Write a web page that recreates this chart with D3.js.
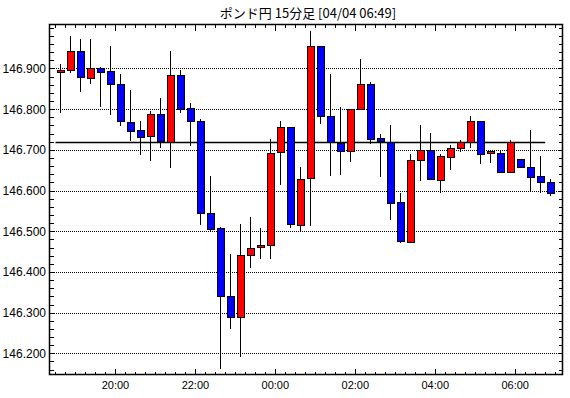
<!DOCTYPE html>
<html><head><meta charset="utf-8">
<script src="https://cdn.jsdelivr.net/npm/d3@7"></script>
<style>body{margin:0;background:#fff}</style>
</head><body>
<svg id="c" width="570" height="398"></svg>
<script>
const title = "ポンド円 15分足 [04/04 06:49]";
const times = ["18:30","18:45","19:00","19:15","19:30","19:45","20:00","20:15","20:30","20:45",
 "21:00","21:15","21:30","21:45","22:00","22:15","22:30","22:45","23:00","23:15",
 "23:30","23:45","00:00","00:15","00:30","00:45","01:00","01:15","01:30","01:45",
 "02:00","02:15","02:30","02:45","03:00","03:15","03:30","03:45","04:00","04:15",
 "04:30","04:45","05:00","05:15","05:30","05:45","06:00","06:15","06:30","06:45"];
const opens = [146.890,146.896,146.943,146.878,146.902,146.893,146.861,146.769,146.750,146.732,
 146.787,146.720,146.884,146.804,146.771,146.545,146.508,146.341,146.289,146.442,
 146.462,146.466,146.693,146.755,146.516,146.629,146.954,146.782,146.718,146.698,
 146.801,146.863,146.728,146.720,146.571,146.474,146.676,146.700,146.628,146.683,
 146.705,146.720,146.772,146.691,146.693,146.646,146.678,146.659,146.636,146.622];
const highs = [146.911,146.980,146.972,146.972,146.904,146.955,146.886,146.847,146.770,146.796,
 146.827,146.943,146.896,146.815,146.775,146.636,146.510,146.443,146.518,146.536,
 146.509,146.726,146.772,146.757,146.657,146.992,146.954,146.886,146.805,146.801,
 146.923,146.866,146.738,146.760,146.593,146.691,146.760,146.741,146.691,146.713,
 146.725,146.783,146.772,146.700,146.696,146.723,146.678,146.748,146.686,146.629];
const lows = [146.791,146.888,146.843,146.862,146.805,146.786,146.758,146.722,146.687,146.672,
 146.704,146.655,146.791,146.709,146.515,146.498,146.161,146.261,146.192,146.409,
 146.431,146.433,146.614,146.508,146.499,146.512,146.764,146.636,146.638,146.670,
 146.797,146.714,146.633,146.527,146.471,146.474,146.624,146.627,146.594,146.650,
 146.695,146.705,146.665,146.667,146.646,146.643,146.658,146.596,146.594,146.586];
const closes = [146.895,146.943,146.878,146.902,146.893,146.861,146.769,146.747,146.732,146.787,
 146.720,146.884,146.801,146.773,146.544,146.506,146.340,146.289,146.442,146.459,
 146.467,146.693,146.755,146.516,146.629,146.954,146.782,146.718,146.698,146.801,
 146.863,146.728,146.721,146.571,146.474,146.676,146.700,146.628,146.686,146.705,
 146.720,146.772,146.691,146.696,146.646,146.720,146.658,146.634,146.621,146.595];
const refLevel = 146.720;
const yTickLabels = [146.200,146.300,146.400,146.500,146.600,146.700,146.800,146.900];
const xTickLabels = ["20:00","22:00","00:00","02:00","04:00","06:00"];

const svg = d3.select("#c");
const L = 49.5, R = 562.5, T = 24.5, B = 374.5;

function toDate(s, i) {
  const [h, m] = s.split(":").map(Number);
  const day = (h >= 12 ? 3 : 4);
  return new Date(2024, 3, day, h, m);
}
const data = times.map((t, i) => ({t: toDate(t, i), o: opens[i], h: highs[i], l: lows[i], c: closes[i]}));

const x = d3.scaleTime()
  .domain([new Date(2024,3,3,18,21), new Date(2024,3,4,7,11)])
  .range([L, R]);
const y = d3.scaleLinear().domain([146.148, 147.008]).range([B, T]);
const half = 7.5 * 60 * 1000;
const cxOf = d => Math.round(x(new Date(+d.t + half))) + 0.5;

// title
svg.append("text").attr("x", 308).attr("y", 18).attr("text-anchor", "middle")
  .attr("font-family", "'Noto Sans CJK JP', sans-serif").attr("font-size", 13).attr("fill", "#000")
  .text(title);

// gridlines
svg.append("g").attr("shape-rendering", "crispEdges").selectAll("line").data(yTickLabels).join("line")
  .attr("x1", L).attr("x2", R)
  .attr("y1", d => Math.round(y(d)) + 0.5).attr("y2", d => Math.round(y(d)) + 0.5)
  .attr("stroke", "#000").attr("stroke-width", 1).attr("stroke-dasharray", "1,1");

// y minor ticks (left and right) via axes
const yMinor = d3.range(146.16, 147.001, 0.02).map(v => +v.toFixed(2));
const yLeft = d3.axisRight(y).tickValues(yMinor).tickSize(4).tickFormat("");
const yRight = d3.axisLeft(y).tickValues(yMinor).tickSize(4).tickFormat("");
svg.append("g").attr("transform", `translate(${L},0)`).call(yLeft).call(g => g.select(".domain").remove());
svg.append("g").attr("transform", `translate(${R},0)`).call(yRight).call(g => g.select(".domain").remove());

// y labels
svg.append("g").selectAll("text").data(yTickLabels).join("text")
  .attr("x", 46).attr("y", d => y(d) + 4.5).attr("text-anchor", "end")
  .attr("font-family", "'Liberation Sans', Arial, sans-serif").attr("font-size", 12).attr("fill", "#000")
  .text(d => d.toFixed(3));

// x ticks
const xMinor = d3.timeMinute.every(15).range(new Date(2024,3,3,18,30), new Date(2024,3,4,7,11));
const isMajor = d => d.getMinutes() === 0 && d.getHours() % 2 === 0;
const xBottom = svg.append("g").attr("transform", `translate(0,${B})`).call(d3.axisTop(x).tickValues(xMinor).tickFormat("").tickSizeOuter(0));
xBottom.select(".domain").remove();
xBottom.selectAll(".tick line").attr("y2", d => isMajor(d) ? -6 : -3);
const xTop = svg.append("g").attr("transform", `translate(0,${T})`).call(d3.axisBottom(x).tickValues(xMinor).tickFormat("").tickSizeOuter(0));
xTop.select(".domain").remove();
xTop.selectAll(".tick line").attr("y2", d => isMajor(d) ? 6 : 3);
svg.selectAll(".tick line").attr("stroke", "#000").attr("shape-rendering", "crispEdges");

// x labels
svg.append("g").selectAll("text").data(xTickLabels).join("text")
  .attr("x", d => x(toDate(d))).attr("y", 389).attr("text-anchor", "middle")
  .attr("font-family", "'Liberation Sans', Arial, sans-serif").attr("font-size", 11).attr("fill", "#000")
  .text(d => d);

// reference line
svg.append("line")
  .attr("x1", x(data[0].t)).attr("x2", x(data[data.length - 1].t))
  .attr("y1", Math.round(y(refLevel)) + 0.5).attr("y2", Math.round(y(refLevel)) + 0.5)
  .attr("stroke", "#000").attr("stroke-width", 1.5);

// candles
const cg = svg.append("g").attr("shape-rendering", "crispEdges");
cg.selectAll("line").data(data).join("line")
  .attr("x1", cxOf).attr("x2", cxOf)
  .attr("y1", d => y(d.h)).attr("y2", d => y(d.l))
  .attr("stroke", "#000").attr("stroke-width", 1);
cg.selectAll("rect").data(data).join("rect")
  .attr("x", d => cxOf(d) - 3.5).attr("width", 7)
  .attr("y", d => Math.round(y(Math.max(d.o, d.c))) + 0.5)
  .attr("height", d => Math.max(1, Math.round(Math.abs(y(d.o) - y(d.c)))))
  .attr("fill", d => d.c >= d.o ? "#ff0000" : "#0000ff")
  .attr("stroke", "#000").attr("stroke-width", 1);

// frame
svg.append("rect").attr("x", L).attr("y", T).attr("width", R - L).attr("height", B - T)
  .attr("fill", "none").attr("stroke", "#000").attr("stroke-width", 1.5);
</script>
</body></html>
